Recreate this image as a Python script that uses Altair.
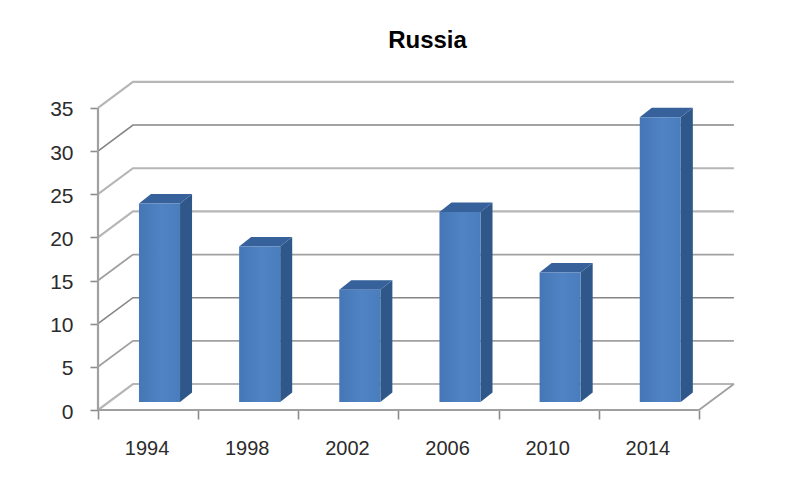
import altair as alt
import pandas as pd

years = ["1994", "1998", "2002", "2006", "2010", "2014"]
values = [23, 18, 13, 22, 15, 33]
grid_values = [0, 5, 10, 15, 20, 25, 30, 35]

# wall and bar geometry in scale units
n = len(years)
X_MAX, Y_MAX = 6.34, 38.0
WALL_DX, WALL_DY = 0.349, 3.01
BAR_L, BAR_W = 0.409, 0.41
BAR_DX, BAR_DY = 0.12, 1.1
BASE = 0.93

LIGHT = ("#b6b6b6", 2.2)
DARK = ("#858585", 1.6)
MID = ("#a0a0a0", 1.8)
line_style = {0: LIGHT, 5: MID, 10: DARK, 15: MID, 20: LIGHT, 25: LIGHT, 30: DARK, 35: LIGHT}

x_scale = alt.Scale(domain=[0, X_MAX], nice=False, zero=False)
y_scale = alt.Scale(domain=[0, Y_MAX], nice=False, zero=False)
x_axis = alt.Axis(values=list(range(n + 1)), labels=False, domain=False, grid=False, ticks=True,
                  tickSize=9, tickColor="#8c8c8c", tickWidth=1.6, title=None)
y_axis = alt.Axis(values=grid_values, domain=False, grid=False, ticks=True, tickSize=8,
                  tickColor="#8c8c8c", tickWidth=1.6, labelFont="Liberation Sans",
                  labelFontSize=21, labelColor="#2b2b2b", labelPadding=17, labelOffset=2, title=None)
X = lambda: alt.X("x:Q", scale=x_scale, axis=x_axis)
Y = lambda: alt.Y("y:Q", scale=y_scale, axis=y_axis, stack=None)

grid_rows = []
for v in grid_values:
    c, w = line_style[v]
    grid_rows += [
        {"g": v, "o": 0, "x": 0, "y": v, "c": c, "w": w},
        {"g": v, "o": 1, "x": WALL_DX, "y": v + WALL_DY, "c": c, "w": w},
        {"g": v, "o": 2, "x": n + WALL_DX, "y": v + WALL_DY, "c": c, "w": w},
    ]
c, w = MID
grid_rows += [
    {"g": -1, "o": 0, "x": n, "y": 0, "c": c, "w": w},
    {"g": -1, "o": 1, "x": n + WALL_DX, "y": WALL_DY, "c": c, "w": w},
    {"g": -2, "o": 0, "x": 0, "y": 0, "c": c, "w": w},
    {"g": -2, "o": 1, "x": n, "y": 0, "c": c, "w": w},
    {"g": -3, "o": 0, "x": 0, "y": 0, "c": c, "w": 2.2},
    {"g": -3, "o": 1, "x": 0, "y": 35, "c": c, "w": 2.2},
]
grid = (
    alt.Chart(pd.DataFrame(grid_rows))
    .mark_line(interpolate="linear")
    .encode(
        x=X(),
        y=Y(),
        color=alt.Color("c:N", scale=None),
        strokeWidth=alt.StrokeWidth("w:Q", scale=None),
        detail="g:N",
        order="o:Q",
    )
)

front_rows, side_rows, top_rows = [], [], []
for i, (yr, v) in enumerate(zip(years, values)):
    l = i + BAR_L
    r = l + BAR_W
    t = BASE + v
    front_rows.append({"b": yr, "x": l, "x2": r, "y": BASE, "y2": t})
    side_rows += [
        {"b": yr, "x": r, "y": t, "y2": BASE},
        {"b": yr, "x": r + BAR_DX, "y": t + BAR_DY, "y2": BASE + BAR_DY},
    ]
    top_rows += [
        {"b": yr, "x": l, "y": t, "y2": t},
        {"b": yr, "x": l + BAR_DX, "y": t + BAR_DY, "y2": t},
        {"b": yr, "x": r, "y": t + BAR_DY, "y2": t},
        {"b": yr, "x": r + BAR_DX, "y": t + BAR_DY, "y2": t + BAR_DY},
    ]

side = alt.Chart(pd.DataFrame(side_rows)).mark_area(color="#2f5789", interpolate="linear").encode(
    x=X(), y=Y(), y2="y2:Q", detail="b:N")
top = alt.Chart(pd.DataFrame(top_rows)).mark_area(color="#36619b", interpolate="linear").encode(
    x=X(), y=Y(), y2="y2:Q", detail="b:N")
front = alt.Chart(pd.DataFrame(front_rows)).mark_rect(
    color=alt.Gradient(
        gradient="linear", x1=0, y1=0, x2=1, y2=0,
        stops=[alt.GradientStop(color="#4577b6", offset=0),
               alt.GradientStop(color="#5083c4", offset=0.55),
               alt.GradientStop(color="#4a7dbc", offset=1)],
    )
).encode(x=X(), x2="x2:Q", y=Y(), y2="y2:Q")

label_df = pd.DataFrame({"x": [i + 0.49 for i in range(n)], "t": years})
labels = alt.Chart(label_df).mark_text(
    font="Liberation Sans", fontSize=20, color="#2b2b2b", baseline="middle", align="center"
).encode(x=X(), y=alt.value(367), text="t:N")

chart = (
    alt.layer(grid, side, top, front, labels)
    .properties(
        width=635,
        height=328,
        padding={"left": 90, "top": 74, "right": 40, "bottom": 50},
        autosize=alt.AutoSizeParams(type="none"),
        background="#ffffff",
        title=alt.TitleParams("Russia", font="Liberation Sans", fontSize=24, fontWeight="bold",
                              color="#000000", anchor="middle", frame="group", dx=12, offset=25),
    )
    .configure_view(stroke=None)
)

chart.save("out.html", embed_options={"renderer": "svg", "actions": False})
